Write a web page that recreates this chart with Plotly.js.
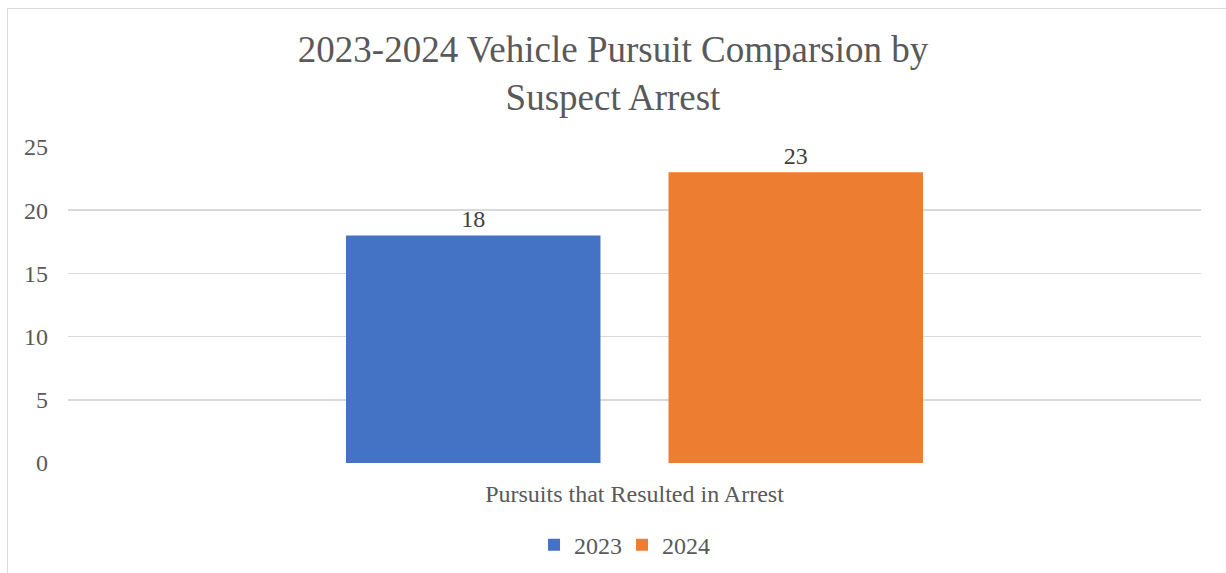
<!DOCTYPE html>
<html>
<head>
<meta charset="utf-8">
<script src="https://cdn.plot.ly/plotly-3.0.1.min.js"></script>
<style>
html,body{margin:0;padding:0;overflow:hidden;background:#fff;}
#chart{width:1226px;height:573px;}
#frame{position:absolute;left:7px;top:8px;width:1260px;height:620px;border:1px solid #d9d9d9;pointer-events:none;}
</style>
</head>
<body>
<div id="chart"></div>
<div id="frame"></div>
<script>
const categories = ["Pursuits that Resulted in Arrest"];
const seriesNames = ["2023", "2024"];
const values2023 = [18];
const values2024 = [23];
const seriesColors = ["#4472C4", "#ED7D31"];
const yTicks = [0, 5, 10, 15, 20, 25];
const titleText = "2023-2024 Vehicle Pursuit Comparsion by<br>Suspect Arrest";

const serif = "Liberation Serif";
const txt = "#595959";

const traces = [values2023, values2024].map((vals, i) => ({
  type: "bar",
  name: seriesNames[i],
  x: categories,
  y: vals,
  marker: {color: seriesColors[i]},
  text: vals.map(String),
  textposition: "outside",
  textfont: {family: serif, size: 24, color: "#404040"},
  cliponaxis: false,
  hoverinfo: "none"
}));

const layout = {
  width: 1226,
  height: 573,
  margin: {l: 68, r: 25, t: 147, b: 110, autoexpand: false},
  paper_bgcolor: "#ffffff",
  plot_bgcolor: "#ffffff",
  font: {family: serif, color: txt, size: 24},
  title: {
    text: titleText,
    font: {family: serif, size: 37, color: txt},
    x: 0.5, xanchor: "center",
    y: 0.892, yanchor: "top"
  },
  barmode: "group",
  bargap: 0.4307,
  bargroupgap: 0.2109,
  xaxis: {
    showgrid: false, showline: false, zeroline: false,
    tickfont: {family: serif, size: 24, color: txt},
    ticklabelstandoff: 14,
    automargin: false,
    fixedrange: true
  },
  yaxis: {
    range: [0, 25],
    tickvals: yTicks,
    ticktext: yTicks.map(String),
    showgrid: true, gridcolor: "#d9d9d9", gridwidth: 1.5,
    zeroline: false, showline: false,
    tickfont: {family: serif, size: 24, color: txt},
    ticklabelstandoff: 19,
    automargin: false,
    fixedrange: true
  },
  showlegend: true,
  legend: {
    orientation: "h",
    x: 0.489, xanchor: "center",
    y: -0.26, yanchor: "middle",
    font: {family: serif, size: 24, color: txt},
    entrywidth: 43, entrywidthmode: "pixels",
    itemwidth: 30,
    traceorder: "normal"
  }
};

Plotly.newPlot("chart", traces, layout, {displayModeBar: false, staticPlot: true});
</script>
</body>
</html>
